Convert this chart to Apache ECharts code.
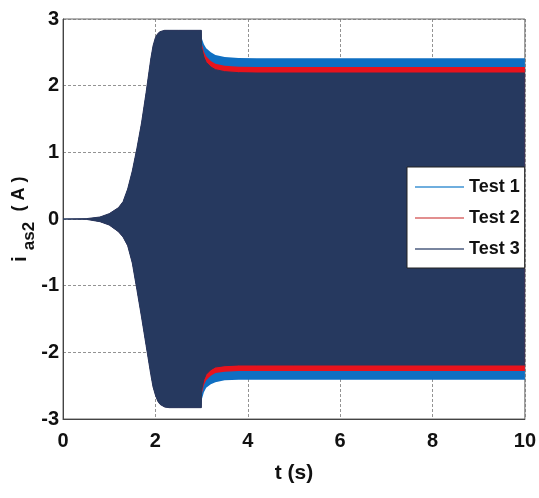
<!DOCTYPE html>
<html>
<head>
<meta charset="utf-8">
<style>
  html, body { margin: 0; padding: 0; background: #ffffff; }
  #chart { width: 539px; height: 498px; }
</style>
<script src="https://cdn.jsdelivr.net/npm/echarts@6/dist/echarts.min.js"></script>
</head>
<body>
<div id="chart"></div>
<script>
// Envelope of the stator current i_as2 (A) versus time t (s).
// Start-up ramp, identical for all three tests (t < 3 s).
const rampTime  = [0, 0.5, 0.8, 1.0, 1.2, 1.3, 1.4, 1.5, 1.6, 1.7, 1.8, 1.9, 1.95, 2.0, 2.05, 2.1, 2.2, 2.3, 2.5, 2.995];
const rampUpper = [0, 0.005, 0.03, 0.08, 0.17, 0.26, 0.45, 0.72, 1.06, 1.44, 1.90, 2.40, 2.60, 2.72, 2.78, 2.81, 2.83, 2.83, 2.83, 2.83];
const rampLower = [0, -0.005, -0.04, -0.09, -0.19, -0.27, -0.40, -0.66, -1.06, -1.47, -1.90, -2.33, -2.52, -2.64, -2.73, -2.78, -2.82, -2.83, -2.83, -2.83];

// Load change at t = 3 s and the settling of each test.
const settleTime  = [3.0, 3.05, 3.1, 3.2, 3.3, 3.5, 3.8, 4.2, 5, 10];
const test1Upper  = [2.72, 2.62, 2.56, 2.50, 2.46, 2.43, 2.415, 2.41, 2.41, 2.41];
const test1Lower  = [-2.72, -2.60, -2.53, -2.48, -2.45, -2.42, -2.41, -2.41, -2.41, -2.41];
const test2Upper  = [2.64, 2.51, 2.44, 2.37, 2.33, 2.30, 2.285, 2.28, 2.28, 2.28];
const test2Lower  = [-2.64, -2.49, -2.42, -2.35, -2.31, -2.29, -2.28, -2.28, -2.28, -2.28];
const test3Upper  = [2.57, 2.43, 2.35, 2.28, 2.24, 2.21, 2.195, 2.19, 2.19, 2.19];
const test3Lower  = [-2.57, -2.41, -2.33, -2.26, -2.22, -2.20, -2.19, -2.19, -2.19, -2.19];

const testNames  = ['Test 1', 'Test 2', 'Test 3'];
const testColors = ['#0f6fc2', '#e8131c', '#26395f'];
const legendColors = ['#3f93d3', '#d86a6a', '#4d5d7f'];
const edgeWidths = [0, 0, 1];
const xTicks = [0, 2, 4, 6, 8, 10];
const yTicks = [-3, -2, -1, 0, 1, 2, 3];

const labelFont = '"Liberation Sans Narrow", "Arial Narrow", "Liberation Sans", Arial, sans-serif';

const envelopes = [
  { upper: test1Upper, lower: test1Lower },
  { upper: test2Upper, lower: test2Lower },
  { upper: test3Upper, lower: test3Lower }
];

const series = [];
envelopes.forEach((env, k) => {
  const times = rampTime.concat(settleTime);
  const halves = [rampUpper.concat(env.upper), rampLower.concat(env.lower)];
  // Each half of the oscillation band is filled from its edge back to zero.
  halves.forEach((edge) => {
    series.push({
      name: testNames[k],
      type: 'line',
      data: times.map((t, i) => [t, edge[i]]),
      symbol: 'none',
      silent: true,
      lineStyle: { color: testColors[k], width: edgeWidths[k] },
      itemStyle: { color: legendColors[k] },
      areaStyle: { color: testColors[k], opacity: 1, origin: 0 }
    });
  });
});

const chart = echarts.init(document.getElementById('chart'), null, { renderer: 'canvas' });

chart.setOption({
  animation: false,
  backgroundColor: '#ffffff',
  grid: {
    left: 63, right: 9, top: 19, bottom: 79,
    show: true, borderColor: '#666666', borderWidth: 1, backgroundColor: 'transparent'
  },
  xAxis: {
    type: 'value',
    min: xTicks[0], max: xTicks[xTicks.length - 1], interval: 2,
    axisLine: { show: true, onZero: false, lineStyle: { color: '#444444', width: 1 } },
    axisTick: { show: false },
    axisLabel: {
      margin: 12,
      color: '#111111',
      fontFamily: labelFont, fontWeight: 'bold', fontSize: 20
    },
    splitLine: { show: true, lineStyle: { color: '#777777', type: [3, 2], width: 0.8 } },
    name: 't (s)',
    nameLocation: 'middle',
    nameGap: 44,
    nameTextStyle: { color: '#111111', fontFamily: labelFont, fontWeight: 'bold', fontSize: 21 }
  },
  yAxis: {
    type: 'value',
    min: yTicks[0], max: yTicks[yTicks.length - 1], interval: 1,
    axisLine: { show: true, onZero: false, lineStyle: { color: '#444444', width: 1 } },
    axisTick: { show: false },
    axisLabel: {
      margin: 4,
      color: '#111111',
      fontFamily: labelFont, fontWeight: 'bold', fontSize: 20
    },
    splitLine: { show: true, lineStyle: { color: '#777777', type: [3, 2], width: 0.8 } }
  },
  legend: {
    data: testNames,
    orient: 'vertical',
    left: 407, top: 167,
    width: 115,
    backgroundColor: '#ffffff',
    borderColor: '#222222', borderWidth: 1, borderRadius: 0,
    padding: [9, 5, 8, 8],
    icon: 'rect',
    itemWidth: 49, itemHeight: 1.6, itemGap: 9,
    selectedMode: false,
    textStyle: { color: '#111111', fontFamily: labelFont, fontWeight: 'bold', fontSize: 18, lineHeight: 22 }
  },
  graphic: [
    {
      type: 'text', x: 20, y: 259, rotation: Math.PI / 2,
      style: { text: 'i', fill: '#111111', font: 'bold 21px "Liberation Sans", Arial, sans-serif', textAlign: 'center', textVerticalAlign: 'middle' }
    },
    {
      type: 'text', x: 29, y: 236, rotation: Math.PI / 2,
      style: { text: 'as2', fill: '#111111', font: 'bold 17px "Liberation Sans", Arial, sans-serif', textAlign: 'center', textVerticalAlign: 'middle' }
    },
    {
      type: 'text', x: 19, y: 194, rotation: Math.PI / 2,
      style: { text: '( A )', fill: '#111111', font: 'bold 18px "Liberation Sans", Arial, sans-serif', textAlign: 'center', textVerticalAlign: 'middle' }
    }
  ],
  series: series
});
</script>
</body>
</html>
